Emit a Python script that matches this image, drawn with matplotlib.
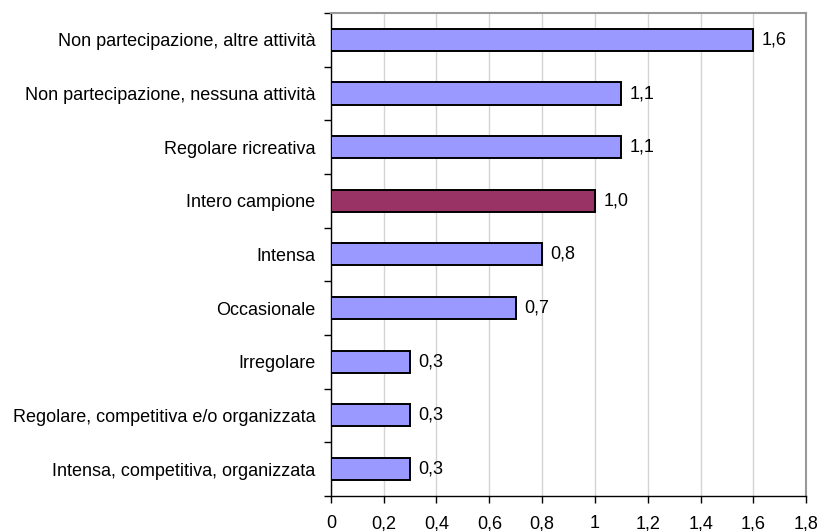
import matplotlib
matplotlib.use("Agg")
import matplotlib.pyplot as plt
import numpy as np

# categories, top to bottom
categories = [
    "Non partecipazione, altre attività",
    "Non partecipazione, nessuna attività",
    "Regolare ricreativa",
    "Intero campione",
    "Intensa",
    "Occasionale",
    "Irregolare",
    "Regolare, competitiva e/o organizzata",
    "Intensa, competitiva, organizzata",
]
values = [1.6, 1.1, 1.1, 1.0, 0.8, 0.7, 0.3, 0.3, 0.3]
highlight = "Intero campione"
xticks = [0, 0.2, 0.4, 0.6, 0.8, 1.0, 1.2, 1.4, 1.6, 1.8]

BLUE = "#9999FF"
PLUM = "#993366"

plt.rcParams["font.family"] = ["Liberation Sans", "DejaVu Sans"]
plt.rcParams["font.size"] = 13

fig = plt.figure(figsize=(8.21, 5.31), dpi=100)
ax = fig.add_axes([0.403, 0.066, 0.579, 0.9095])

y = np.arange(len(categories))
colors = [PLUM if c == highlight else BLUE for c in categories]
ax.barh(y, values, height=0.41, color=colors, edgecolor="black",
        linewidth=1.4, zorder=3)

for yi, v in zip(y, values):
    ax.annotate(f"{v:.1f}".replace(".", ","), xy=(v, yi),
                xytext=(6, 0), textcoords="offset points",
                ha="left", va="center", fontsize=13)

ax.set_xlim(0, 1.8)
ax.set_ylim(len(categories) - 0.5, -0.5)

# x axis
ax.set_xticks(xticks)
ax.set_xticklabels([f"{t:g}".replace(".", ",") for t in xticks])
ax.tick_params(axis="x", direction="out", length=5, width=1, pad=9)
ax.xaxis.grid(True, color="#D4D4D4", linewidth=1, zorder=0)

# y axis: ticks between categories, labels at bar centres
ax.set_yticks(np.arange(-0.5, len(categories), 1.0))
ax.set_yticklabels([])
ax.set_yticks(y, minor=True)
ax.set_yticklabels(categories, minor=True)
ax.tick_params(axis="y", which="major", direction="out", length=5, width=1)
ax.tick_params(axis="y", which="minor", length=0, pad=11)

for side in ("left", "bottom"):
    ax.spines[side].set_color("black")
    ax.spines[side].set_linewidth(1)
for side in ("top", "right"):
    ax.spines[side].set_color("#999999")
    ax.spines[side].set_linewidth(1.5)

fig.savefig("out.png", dpi=100)
